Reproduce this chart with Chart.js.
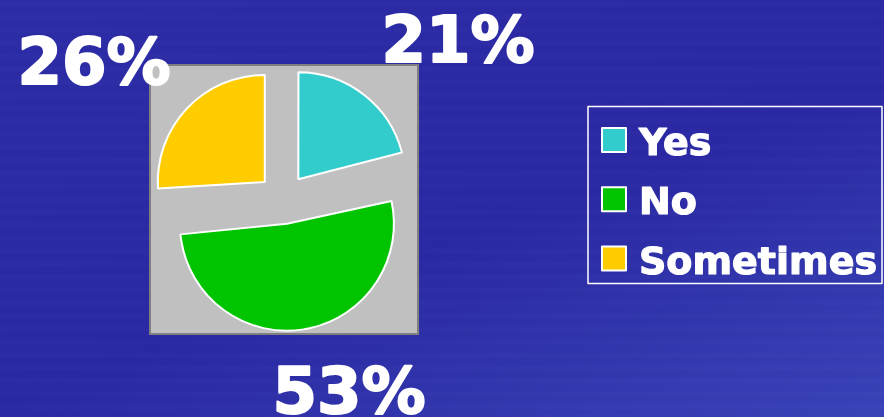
<!DOCTYPE html>
<html>
<head>
<meta charset="utf-8">
<script src="https://cdn.jsdelivr.net/npm/chart.js@4"></script>
<style>
  html, body { margin: 0; padding: 0; }
  body {
    width: 884px; height: 417px; overflow: hidden;
    background:
      repeating-linear-gradient(180deg, rgba(255,255,255,0.00) 0px, rgba(255,255,255,0.015) 4px, rgba(0,0,0,0.01) 9px, rgba(255,255,255,0.00) 13px),
      linear-gradient(160deg, #2c2ca7 0%, #2a28a3 55%, #3136ad 78%, #3a42b8 100%);
  }
  #wrap { position: relative; width: 884px; height: 417px; }
</style>
</head>
<body>
<div id="wrap"><canvas id="pieChart" width="884" height="417"></canvas></div>
<script>
const labels = ['Yes', 'No', 'Sometimes'];
const values = [21, 53, 26];
const colors = ['#33cccc', '#00c400', '#ffcc00'];

// where the big percentage labels sit (PowerPoint style, outside the plot box)
const pctPos = [[458, 62], [349, 413], [94, 84]];

const FONT = '"DejaVu Sans", Verdana, sans-serif';
const PIE_R = 107;
const EXPLODE = 100; // chart.js v4 draws offset / 4 -> 25px

const decor = {
    id: 'decor',
    beforeDraw(chart) {
        const ctx = chart.ctx;
        // gray plot area
        ctx.save();
        ctx.fillStyle = '#c0c0c0';
        ctx.fillRect(150, 65, 268, 269);
        ctx.strokeStyle = '#7f7f7f';
        ctx.lineWidth = 2;
        ctx.strokeRect(150, 65, 268, 269);
        ctx.restore();
    },
    beforeDatasetsDraw(chart) {
        // chart.js grows the radius of an exploded slice wider than 180deg,
        // undo that so every slice keeps the same radius
        chart.getDatasetMeta(0).data.forEach(arc => {
            const c = arc.endAngle - arc.startAngle;
            const fix = 1 - Math.sin(Math.min(Math.PI, c));
            arc.outerRadius = PIE_R - (EXPLODE / 4) * fix;
        });
    },
    afterDraw(chart) {
        const ctx = chart.ctx;
        ctx.save();
        // percentage labels
        ctx.fillStyle = '#ffffff';
        ctx.strokeStyle = '#ffffff';
        ctx.lineJoin = 'round';
        ctx.font = 'bold 64px ' + FONT;
        ctx.textAlign = 'center';
        ctx.textBaseline = 'alphabetic';
        const total = values.reduce((a, b) => a + b, 0);
        values.forEach((v, i) => {
            const pct = Math.round(v / total * 100) + '%';
            ctx.lineWidth = 2;
            ctx.fillText(pct, pctPos[i][0], pctPos[i][1]);
            ctx.strokeText(pct, pctPos[i][0], pctPos[i][1]);
        });

        // legend box
        ctx.strokeStyle = '#ffffff';
        ctx.lineWidth = 1.5;
        ctx.strokeRect(588, 106.5, 294, 177);
        ctx.font = 'bold 38px ' + FONT;
        ctx.textAlign = 'left';
        labels.forEach((lab, i) => {
            const y = 128 + i * 59.3;
            ctx.fillStyle = colors[i];
            ctx.fillRect(602, y, 24, 24);
            ctx.strokeStyle = '#ffffff';
            ctx.lineWidth = 2;
            ctx.strokeRect(602, y, 24, 24);
            ctx.fillStyle = '#ffffff';
            ctx.lineWidth = 1.2;
            ctx.fillText(lab, 639, y + 27);
            ctx.strokeText(lab, 639, y + 27);
        });
        ctx.restore();
    }
};

new Chart(document.getElementById('pieChart').getContext('2d'), {
    type: 'pie',
    data: {
        labels: labels,
        datasets: [{
            data: values,
            backgroundColor: colors,
            borderColor: '#ffffff',
            borderWidth: 2,
            offset: EXPLODE
        }]
    },
    options: {
        responsive: false,
        animation: false,
        events: [],
        radius: PIE_R,
        layout: {
            padding: { left: 150, right: 468, top: 63, bottom: 82 }
        },
        plugins: {
            legend: { display: false },
            tooltip: { enabled: false }
        }
    },
    plugins: [decor]
});
</script>
</body>
</html>
